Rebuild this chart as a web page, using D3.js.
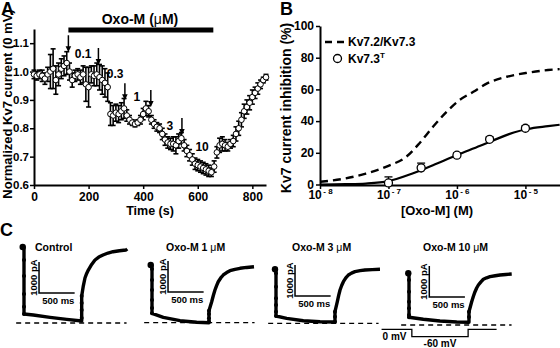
<!DOCTYPE html>
<html>
<head>
<meta charset="utf-8">
<script src="https://cdn.jsdelivr.net/npm/d3@7"></script>
<style>
body { margin: 0; background: #fff; }
svg { display: block; }
</style>
</head>
<body>
<svg id="fig" width="560" height="348"></svg>
<script>
var FONT = "Arial, 'Liberation Sans', Helvetica, sans-serif";

// Panel A data: time course ===============================================
var timeS = [0,10,20,30,40,50,60,70,80,90,100,110,120,130,140,150,160,170,180,190,
	200,210,220,230,240,250,260,270,280,290,300,310,320,330,340,350,360,370,380,390,
	400,410,420,430,440,450,460,470,480,490,500,510,520,530,540,550,560,570,580,590,
	600,610,620,630,640,650,660,670,680,690,700,710,720,730,740,750,760,770,780,790,
	800,810,820,830,840,850];
var normCurrent = [0.99,0.985,0.99,0.985,0.975,0.99,1.0,1.01,0.97,0.99,1.01,1.02,1.03,1.0,0.97,0.985,0.99,0.98,0.99,0.955,
	0.945,0.99,0.985,0.99,0.98,0.97,0.96,0.945,0.85,0.845,0.855,0.85,0.86,0.87,0.845,0.83,0.82,0.815,0.82,0.83,
	0.85,0.87,0.86,0.83,0.815,0.805,0.8,0.78,0.76,0.75,0.745,0.745,0.74,0.755,0.765,0.74,0.72,0.705,0.69,0.675,
	0.67,0.665,0.66,0.655,0.65,0.645,0.665,0.715,0.74,0.745,0.74,0.735,0.745,0.755,0.78,0.8,0.83,0.86,0.875,0.89,
	0.91,0.925,0.94,0.955,0.97,0.98];
var normSem = [0.015,0.015,0.015,0.02,0.02,0.025,0.06,0.07,0.05,0.04,0.035,0.035,0.04,0.03,0.025,0.02,0.02,0.025,0.03,0.06,
	0.07,0.03,0.035,0.04,0.045,0.05,0.05,0.05,0.04,0.035,0.03,0.03,0.03,0.035,0.02,0.015,0.01,0.01,0.01,0.015,
	0.02,0.025,0.02,0.015,0.015,0.015,0.015,0.02,0.02,0.02,0.02,0.025,0.03,0.025,0.02,0.02,0.02,0.02,0.02,0.02,
	0.02,0.02,0.02,0.02,0.02,0.015,0.02,0.02,0.025,0.025,0.02,0.015,0.015,0.02,0.025,0.025,0.025,0.025,0.025,0.025,
	0.025,0.02,0.02,0.015,0.01,0.01];
var oxoOn = 126, oxoOff = 657;
var arrowTimes = [126, 236, 333, 428, 542];
var arrowTipVal = [1.068, 1.023, 0.899, 0.875, 0.776];
var concLabels = ["0.1", "0.3", "1", "3", "10"];
var concLabelTime = [180, 297, 377, 498, 616];
var concLabelVal = [1.061, 0.991, 0.91, 0.808, 0.734];
var timeTicks = [0, 200, 400, 600, 800];
var normTicks = [0.6, 0.7, 0.8, 0.9, 1.0, 1.1];

// Panel B data: dose response =============================================
var kv23LogC = [-8, -7.63, -7.33, -7, -6.74, -6.55, -6.35, -6.15, -5.96, -5.76, -5.56, -5.27, -4.97, -4.67, -4.5];
var kv23Inhib = [1.7, 3.8, 6.9, 11.8, 17.5, 25.9, 36.4, 45.9, 53.3, 58.5, 63.8, 68, 70.5, 72.2, 72.8];
var kv3tLogC = [-8, -7.63, -7.33, -7, -6.65, -6.35, -5.98, -5.66, -5.46, -5.17, -4.97, -4.67, -4.5];
var kv3tInhib = [0, 0.2, 0.6, 2.1, 6.9, 12.2, 18.9, 24.4, 28, 32.8, 35, 36.8, 37.7];
var kv3tConc = [1e-7, 3e-7, 1e-6, 3e-6, 1e-5];
var kv3tMean = [1, 10.5, 18.5, 28.5, 35.5];
var kv3tSem = [3.8, 3, 1.5, 1.5, 1.5];
var concTicks = [1e-8, 1e-7, 1e-6, 1e-5];
var inhibTicks = [0, 20, 40, 60, 80, 100];

// Panel C data: current traces [ms, pA, sampled dot] =======================
var ctrlTrace = [[-18,2455,1],[0,2455],[0,2035,1],[0,1518,1],[0,937,1],[0,526,1],[0,291,1],[131,258],[365,183],[600,118],[810,65],
	[810,161,1],[810,420,1],[810,646,1],[810,872,1],[833,1200],[856,1453],[880,1600],[903,1711],[950,1890],[997,2035],[1050,2130],[1109,2196],[1180,2260],[1250,2303],[1340,2335],[1432,2358],[1450,2390]];
var oxo1Trace = [[-18,1864,1],[0,1864],[0,1734,1],[0,1379,1],[0,1056,1],[0,733,1],[0,475,1],[0,304,1],[159,174],[393,65],[627,13],[800,0],
	[800,32,1],[800,142,1],[800,281,1],[800,388,1],[838,678],[861,880],[884,1056],[907,1200],[930,1324],[965,1445],[1001,1541],[1048,1620],[1095,1680],[1165,1725],[1236,1757],[1330,1785],[1432,1809]];
var oxo3Trace = [[-14,1744,1],[0,1744],[0,1615,1],[0,1182,1],[0,807,1],[0,591,1],[0,375,1],[0,236,1],[150,161],[384,84],[618,52],[828,42],
	[828,52,1],[828,213,1],[828,375,1],[861,698],[880,900],[899,1076],[922,1220],[946,1344],[980,1465],[1016,1560],[1060,1620],[1109,1667],[1180,1700],[1250,1722],[1350,1735],[1460,1744]];
var oxo10Trace = [[-10,1670,1],[0,1670],[0,1454,1],[0,1076,1],[0,753,1],[0,539,1],[0,323,1],[0,249,1],[201,184],[435,129],[670,97],[842,87],
	[842,258,1],[842,430,1],[880,753],[903,920],[927,1076],[950,1195],[974,1292],[1010,1395],[1044,1476],[1090,1525],[1137,1560],[1210,1592],[1278,1615],[1360,1633],[1442,1647]];
var traceLabels = ["Control", "Oxo-M 1 ", "Oxo-M 3 ", "Oxo-M 10 "];
var scaleBarAt = [[211, 969], [225, 992], [267, 882], [285, 904]];
var baselineSpan = [-110, 1440];
var protocolMs = [-385, 40, 40, 830, 830, 1230];
var protocolMv = [0, 0, -60, -60, 0, 0];

// Layout ==================================================================
var svg = d3.select("#fig");

var xA = d3.scaleLinear().domain([0, 850]).range([34, 266]);
var yA = d3.scaleLinear().domain([0.6, 1.15]).range([185, 29]);
var xB = d3.scaleLog().domain([1e-8, 3.2e-5]).range([320, 560]);
var yB = d3.scaleLinear().domain([0, 100]).range([184.5, 26]);

var traceLayout = [
	{ x0: 24,  y0: 323,   textX: 35 },
	{ x0: 152, y0: 322.7, textX: 166 },
	{ x0: 276, y0: 323.3, textX: 292 },
	{ x0: 409, y0: 325,   textX: 423 }
];
var msPerPx = 14.04, paPerPx = 32.3;

function boldText(sel, size) {
	return sel.attr("font-family", FONT)
		.attr("font-weight", "bold")
		.attr("font-size", size)
		.attr("fill", "#000");
}

function styleAxis(g) {
	g.attr("font-family", FONT).attr("font-size", 12).attr("font-weight", "bold");
	g.select(".domain").attr("stroke-width", 2);
	g.selectAll(".tick line").attr("stroke-width", 1.5);
}

// Panel letters
boldText(svg.append("text").attr("x", 1).attr("y", 15).text("A"), 18);
boldText(svg.append("text").attr("x", 280).attr("y", 15).text("B"), 18);
boldText(svg.append("text").attr("x", 0).attr("y", 236).text("C"), 18);

// Panel A =================================================================
var panelA = svg.append("g");

panelA.append("g")
	.attr("transform", "translate(34,0)")
	.call(d3.axisLeft(yA).tickValues(normTicks).tickSize(4).tickSizeOuter(0).tickPadding(1)
		.tickFormat(d3.format(".1f")))
	.call(styleAxis)
	.attr("font-size", 11.5);

panelA.append("g")
	.attr("transform", "translate(0,185)")
	.call(d3.axisBottom(xA).tickValues(timeTicks).tickSize(4).tickSizeOuter(0).tickPadding(3))
	.call(styleAxis);

boldText(panelA.append("text"), 13)
	.attr("transform", "translate(11.5,104) rotate(-90)")
	.attr("text-anchor", "middle")
	.text("Normalized Kv7 current (0 mV)");

boldText(panelA.append("text"), 12.5)
	.attr("x", 150).attr("y", 215)
	.attr("text-anchor", "middle")
	.text("Time (s)");

// drug bar
panelA.append("rect")
	.attr("x", xA(oxoOn)).attr("y", 27.5)
	.attr("width", xA(oxoOff) - xA(oxoOn)).attr("height", 5)
	.attr("fill", "#000");

var oxoTitle = boldText(panelA.append("text"), 14)
	.attr("x", 140).attr("y", 24)
	.attr("text-anchor", "middle");
oxoTitle.append("tspan").text("Oxo-M (");
oxoTitle.append("tspan").attr("font-weight", "normal").text("\u03bc");
oxoTitle.append("tspan").text("M)");

var pointsA = timeS.map(function(t, i) { return [t, normCurrent[i], normSem[i]]; });

var errA = panelA.append("g").attr("stroke", "#000").attr("stroke-width", 1.6);
pointsA.forEach(function(d) {
	var x = xA(d[0]), y1 = yA(d[1] + d[2]), y2 = yA(d[1] - d[2]);
	errA.append("line").attr("x1", x).attr("x2", x).attr("y1", y1).attr("y2", y2);
	errA.append("line").attr("x1", x - 2.5).attr("x2", x + 2.5).attr("y1", y1).attr("y2", y1);
	errA.append("line").attr("x1", x - 2.5).attr("x2", x + 2.5).attr("y1", y2).attr("y2", y2);
});

panelA.append("g").selectAll("circle")
	.data(pointsA)
	.enter()
	.append("circle")
	.attr("cx", function(d) { return xA(d[0]); })
	.attr("cy", function(d) { return yA(d[1]); })
	.attr("r", 2.8)
	.attr("fill", "#fff")
	.attr("stroke", "#000")
	.attr("stroke-width", 1);

// arrows
arrowTimes.forEach(function(t, i) {
	var x = xA(t), tip = yA(arrowTipVal[i]);
	panelA.append("line")
		.attr("x1", x).attr("x2", x)
		.attr("y1", tip - 17).attr("y2", tip - 4)
		.attr("stroke", "#000").attr("stroke-width", 1.5);
	panelA.append("path")
		.attr("d", "M" + (x - 2.8) + "," + (tip - 6) + "L" + (x + 2.8) + "," + (tip - 6) + "L" + x + "," + tip + "Z")
		.attr("fill", "#000");
});

panelA.append("g").selectAll("text")
	.data(concLabels)
	.enter()
	.append("text")
	.attr("x", function(d, i) { return xA(concLabelTime[i]); })
	.attr("y", function(d, i) { return yA(concLabelVal[i]) + 4; })
	.attr("text-anchor", "middle")
	.attr("font-family", FONT).attr("font-weight", "bold").attr("font-size", 12)
	.text(function(d) { return d; });

// Panel B =================================================================
var panelB = svg.append("g");

panelB.append("g")
	.attr("transform", "translate(320,0)")
	.call(d3.axisLeft(yB).tickValues(inhibTicks).tickSize(4).tickSizeOuter(0).tickPadding(2))
	.call(styleAxis);

var xAxisB = panelB.append("g")
	.attr("transform", "translate(0,185)")
	.call(d3.axisBottom(xB).tickValues(concTicks).tickSize(4).tickSizeOuter(0).tickFormat(""))
	.call(styleAxis);

xAxisB.selectAll(".tick").each(function(d) {
	var t = d3.select(this).append("text")
		.attr("y", 14).attr("fill", "#000")
		.attr("text-anchor", "middle");
	t.append("tspan").attr("font-size", 12).text("10");
	t.append("tspan").attr("font-size", 8).attr("dy", -5).attr("dx", 1.5)
		.text("- " + Math.round(-Math.log10(d)));
});

boldText(panelB.append("text"), 14)
	.attr("transform", "translate(291,108) rotate(-90)")
	.attr("text-anchor", "middle")
	.text("Kv7 current inhibition (%)");

boldText(panelB.append("text"), 13)
	.attr("x", 437).attr("y", 215)
	.attr("text-anchor", "middle")
	.text("[Oxo-M] (M)");

var lineB = d3.line()
	.x(function(d) { return xB(Math.pow(10, d[0])); })
	.y(function(d) { return yB(d[1]); })
	.curve(d3.curveMonotoneX);

panelB.append("path")
	.datum(kv23LogC.map(function(c, i) { return [c, kv23Inhib[i]]; }))
	.attr("d", lineB)
	.attr("fill", "none").attr("stroke", "#000")
	.attr("stroke-width", 2.4).attr("stroke-dasharray", "8,5");

panelB.append("path")
	.datum(kv3tLogC.map(function(c, i) { return [c, kv3tInhib[i]]; }))
	.attr("d", lineB)
	.attr("fill", "none").attr("stroke", "#000")
	.attr("stroke-width", 2.2);

var errB = panelB.append("g").attr("stroke", "#000").attr("stroke-width", 1.3);
kv3tConc.forEach(function(c, i) {
	var x = xB(c), y1 = yB(kv3tMean[i] + kv3tSem[i]), y2 = yB(Math.max(0, kv3tMean[i] - kv3tSem[i]));
	errB.append("line").attr("x1", x).attr("x2", x).attr("y1", y1).attr("y2", y2);
	errB.append("line").attr("x1", x - 4).attr("x2", x + 4).attr("y1", y1).attr("y2", y1);
});

panelB.append("g").selectAll("circle")
	.data(kv3tConc)
	.enter()
	.append("circle")
	.attr("cx", function(d) { return xB(d); })
	.attr("cy", function(d, i) { return yB(kv3tMean[i]); })
	.attr("r", 4)
	.attr("fill", "#fff").attr("stroke", "#000").attr("stroke-width", 1.3);

// legend
panelB.append("line")
	.attr("x1", 325).attr("x2", 344).attr("y1", 42).attr("y2", 42)
	.attr("stroke", "#000").attr("stroke-width", 2.4).attr("stroke-dasharray", "7,5");
boldText(panelB.append("text"), 12).attr("x", 348).attr("y", 46).text("Kv7.2/Kv7.3");
panelB.append("circle")
	.attr("cx", 337.5).attr("cy", 58.5).attr("r", 4)
	.attr("fill", "#fff").attr("stroke", "#000").attr("stroke-width", 1.3);
var leg2 = boldText(panelB.append("text"), 12).attr("x", 348).attr("y", 63);
leg2.append("tspan").text("Kv7.3");
leg2.append("tspan").attr("font-size", 8).attr("dy", -5).text("T");

// Panel C =================================================================
var panelC = svg.append("g");
var allTraces = [ctrlTrace, oxo1Trace, oxo3Trace, oxo10Trace];

allTraces.forEach(function(trace, i) {
	var lay = traceLayout[i];
	var xs = d3.scaleLinear().domain([0, msPerPx]).range([lay.x0, lay.x0 + 1]);
	var ys = d3.scaleLinear().domain([0, paPerPx]).range([lay.y0, lay.y0 - 1]);
	var g = panelC.append("g");

	g.append("line")
		.attr("x1", xs(baselineSpan[0])).attr("x2", xs(baselineSpan[1]))
		.attr("y1", lay.y0).attr("y2", lay.y0)
		.attr("stroke", "#000").attr("stroke-width", 1.3).attr("stroke-dasharray", "5,4");

	g.append("path")
		.datum(trace)
		.attr("d", d3.line()
			.x(function(d) { return xs(d[0]); })
			.y(function(d) { return ys(d[1]); }))
		.attr("fill", "none").attr("stroke", "#000")
		.attr("stroke-width", 3.4).attr("stroke-linejoin", "round");

	g.selectAll("circle")
		.data(trace.filter(function(d) { return d[2]; }))
		.enter()
		.append("circle")
		.attr("cx", function(d) { return xs(d[0]); })
		.attr("cy", function(d) { return ys(d[1]); })
		.attr("r", function(d, j) { return j === 0 ? 3.2 : 2; })
		.attr("fill", "#000");

	// scale bar 500 ms x 1000 pA
	var sb = scaleBarAt[i];
	g.append("path")
		.attr("d", "M" + xs(sb[0]) + "," + ys(sb[1] + 1000) + "L" + xs(sb[0]) + "," + ys(sb[1]) + "L" + xs(sb[0] + 500) + "," + ys(sb[1]))
		.attr("fill", "none").attr("stroke", "#000").attr("stroke-width", 1.5);
	boldText(g.append("text"), 9.5)
		.attr("transform", "translate(" + (xs(sb[0]) - 2) + "," + ys(sb[1] + 500) + ") rotate(-90)")
		.attr("text-anchor", "middle")
		.text("1000 pA");
	boldText(g.append("text"), 9.5)
		.attr("x", xs(sb[0] + 270)).attr("y", ys(sb[1]) + 11)
		.attr("text-anchor", "middle")
		.text("500 ms");

	var lbl = boldText(g.append("text"), 10.5)
		.attr("x", lay.textX).attr("y", 251);
	lbl.append("tspan").text(traceLabels[i]);
	if (i > 0) {
		lbl.append("tspan").attr("font-weight", "normal").text("\u03bc");
		lbl.append("tspan").text("M");
	}

	if (i === 3) {
		var mv = d3.scaleLinear().domain([-60, 0]).range([336.7, 329.3]);
		g.append("path")
			.datum(protocolMs.map(function(t, k) { return [t, protocolMv[k]]; }))
			.attr("d", d3.line().x(function(d) { return xs(d[0]); }).y(function(d) { return mv(d[1]); }))
			.attr("fill", "none").attr("stroke", "#000").attr("stroke-width", 1.3);
		boldText(g.append("text"), 10)
			.attr("x", xs(protocolMs[0]) + 1).attr("y", 339.5)
			.text("0 mV");
		boldText(g.append("text"), 10)
			.attr("x", xs((protocolMs[2] + protocolMs[3]) / 2)).attr("y", 347)
			.attr("text-anchor", "middle")
			.text("-60 mV");
	}
});
</script>
</body>
</html>
